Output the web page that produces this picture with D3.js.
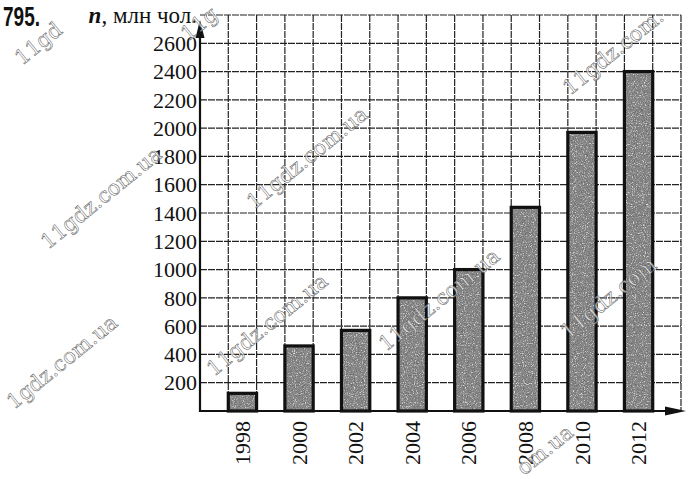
<!DOCTYPE html>
<html>
<head>
<meta charset="utf-8">
<script src="https://cdn.jsdelivr.net/npm/d3@7.9.0/dist/d3.min.js"></script>
<style>
  html, body { margin: 0; padding: 0; background: #fff; }
  svg { display: block; }
</style>
</head>
<body>
<svg id="chart" width="695" height="479"></svg>
<script>
// data
const years = ['1998', '2000', '2002', '2004', '2006', '2008', '2010', '2012'];
const users = [125, 460, 570, 800, 1000, 1440, 1970, 2400];
const yTicks = [200, 400, 600, 800, 1000, 1200, 1400, 1600, 1800, 2000, 2200, 2400, 2600];
const gridRows = [200, 400, 600, 800, 1000, 1200, 1400, 1600, 1800, 2000, 2200, 2400, 2600, 2800];

const svg = d3.select('#chart');
const serif = "'Liberation Serif', 'Times New Roman', serif";

const x0 = 200, x1 = 681, yBase = 411, yTop = 15;
const cells = 17;

// scales
const y = d3.scaleLinear().domain([0, 2800]).range([yBase, yTop]);
const gx = d3.scaleLinear().domain([0, cells]).range([x0, x1]);
const x = d3.scaleBand()
  .domain(years)
  .range([gx(1), gx(16)])
  .paddingInner(0.5)
  .paddingOuter(0);

// stipple texture for the bars
const defs = svg.append('defs');
const f = defs.append('filter').attr('id', 'grain')
  .attr('filterUnits', 'userSpaceOnUse')
  .attr('x', 0).attr('y', 0).attr('width', 695).attr('height', 479);
f.append('feTurbulence').attr('type', 'fractalNoise')
  .attr('baseFrequency', 0.9).attr('numOctaves', 2).attr('seed', 5).attr('result', 'noise');
f.append('feColorMatrix').attr('in', 'noise').attr('type', 'matrix')
  .attr('values', '0 0 0 0 0.15  0 0 0 0 0.15  0 0 0 0 0.15  3 0 0 0 -1.2')
  .attr('result', 'dark');
f.append('feColorMatrix').attr('in', 'noise').attr('type', 'matrix')
  .attr('values', '0 0 0 0 0.85  0 0 0 0 0.85  0 0 0 0 0.85  0 -3 0 0 1.3')
  .attr('result', 'light');
f.append('feMerge').attr('result', 'dots')
  .call(m => { m.append('feMergeNode').attr('in', 'SourceGraphic'); m.append('feMergeNode').attr('in', 'dark'); m.append('feMergeNode').attr('in', 'light'); });
f.append('feComposite').attr('in', 'dots').attr('in2', 'SourceGraphic').attr('operator', 'in');

// grid
const grid = svg.append('g')
  .attr('stroke', '#222')
  .attr('stroke-width', 1.2)
  .attr('stroke-dasharray', '7 1');
grid.selectAll('line.h')
  .data(gridRows)
  .join('line')
  .attr('class', 'h')
  .attr('x1', x0).attr('x2', x1)
  .attr('y1', d => y(d)).attr('y2', d => y(d));
grid.selectAll('line.v')
  .data(d3.range(1, cells + 1))
  .join('line')
  .attr('class', 'v')
  .attr('x1', d => gx(d)).attr('x2', d => gx(d))
  .attr('y1', yTop).attr('y2', yBase);

// bars
const bars = svg.append('g');
bars.selectAll('rect.fill')
  .data(years)
  .join('rect')
  .attr('class', 'fill')
  .attr('x', d => x(d))
  .attr('y', (d, i) => y(users[i]))
  .attr('width', x.bandwidth())
  .attr('height', (d, i) => yBase - y(users[i]))
  .attr('fill', '#8c8c8c')
  .attr('filter', 'url(#grain)');
bars.selectAll('rect.edge')
  .data(years)
  .join('rect')
  .attr('class', 'edge')
  .attr('x', d => x(d))
  .attr('y', (d, i) => y(users[i]))
  .attr('width', x.bandwidth())
  .attr('height', (d, i) => yBase - y(users[i]))
  .attr('fill', 'none')
  .attr('stroke', '#111')
  .attr('stroke-width', 3.2);

// axes with arrows
svg.append('line')
  .attr('x1', x0).attr('x2', x0)
  .attr('y1', yBase + 1).attr('y2', 30)
  .attr('stroke', '#111').attr('stroke-width', 2.2);
svg.append('path')
  .attr('d', `M${x0 - 4.5},${38} L${x0},${20} L${x0 + 4.5},${38} Z`)
  .attr('fill', '#111');
svg.append('line')
  .attr('x1', x0 - 1).attr('x2', 675)
  .attr('y1', yBase).attr('y2', yBase)
  .attr('stroke', '#111').attr('stroke-width', 2.2);
svg.append('path')
  .attr('d', `M${665},${yBase - 4.5} L${686},${yBase} L${665},${yBase + 4.5} Z`)
  .attr('fill', '#111');

// y labels
svg.append('g')
  .selectAll('text')
  .data(yTicks)
  .join('text')
  .attr('x', 197)
  .attr('y', d => y(d))
  .attr('dy', '0.35em')
  .attr('text-anchor', 'end')
  .attr('font-family', serif)
  .attr('font-size', 22)
  .attr('fill', '#111')
  .text(d => d);

// x labels (vertical)
svg.append('g')
  .selectAll('text')
  .data(years)
  .join('text')
  .attr('transform', d => `translate(${x(d) + x.bandwidth() / 2},421) rotate(-90)`)
  .attr('dy', '0.35em')
  .attr('text-anchor', 'end')
  .attr('font-family', serif)
  .attr('font-size', 22)
  .attr('fill', '#111')
  .text(d => d);

// axis title
const title = svg.append('text')
  .attr('x', 197).attr('y', 23)
  .attr('text-anchor', 'end')
  .attr('font-family', serif)
  .attr('font-size', 23)
  .attr('fill', '#111');
title.append('tspan').attr('font-style', 'italic').attr('font-weight', 'bold').text('n');
title.append('tspan').text(', млн чол.');

// exercise number
svg.append('text')
  .attr('x', 3).attr('y', 26)
  .attr('font-family', "'Liberation Sans Narrow', 'Liberation Sans', sans-serif")
  .attr('font-weight', 'bold')
  .attr('font-size', 28)
  .attr('textLength', 37)
  .attr('lengthAdjust', 'spacingAndGlyphs')
  .attr('fill', '#111')
  .text('795.');

// watermarks (fragments where the scan cuts them)
const marks = [
  { x: 48, y: 250, t: '11gdz.com.ua' },
  { x: 14, y: 410, t: '1gdz.com.ua' },
  { x: 214, y: 377, t: '11gdz.com.ua' },
  { x: 254, y: 210, t: '11gdz.com.ua' },
  { x: 386, y: 352, t: '11gdz.com.ua' },
  { x: 570, y: 96, t: '11gdz.com.' },
  { x: 568, y: 340, t: '11gdz.com' },
  { x: 524, y: 476, t: 'om.ua' },
  { x: 22, y: 66, t: '11gd' },
  { x: 188, y: 42, t: '11g' }
];
svg.append('g')
  .selectAll('text')
  .data(marks)
  .join('text')
  .attr('transform', d => `translate(${d.x},${d.y}) rotate(-39)`)
  .attr('font-family', "'DejaVu Serif', serif")
  .attr('font-size', 21)
  .attr('fill', '#fff')
  .attr('fill-opacity', 0.7)
  .attr('stroke', '#555')
  .attr('stroke-width', 0.5)
  .text(d => d.t);
</script>
</body>
</html>
